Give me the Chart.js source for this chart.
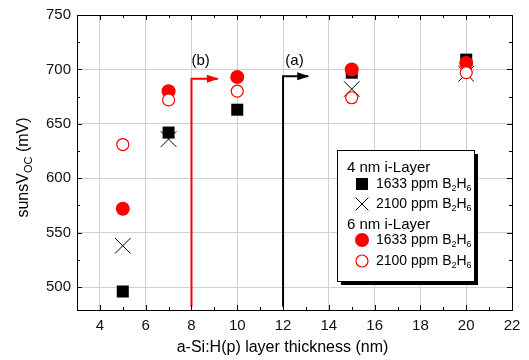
<!DOCTYPE html>
<html>
<head>
<meta charset="utf-8">
<script src="https://cdn.jsdelivr.net/npm/chart.js@4"></script>
<style>
  html, body { margin: 0; padding: 0; background: #fff; }
  #wrap { width: 529px; height: 360px; }
</style>
</head>
<body>
<div id="wrap"><canvas id="vocChart"></canvas></div>
<script>
// ── Data ──
const thickness = [5, 7, 10, 15, 20];
const nm4_1633 = [496, 642, 663, 697, 709];
const nm4_2100 = [538, 636, null, 682, 696];
const nm6_1633 = [572, 680, 693, 700, 706];
const nm6_2100 = [631, 672, 680, 674, 697];

const xTicks = [4, 6, 8, 10, 12, 14, 16, 18, 20, 22];
const yTicks = [500, 550, 600, 650, 700, 750];

// arrows (a) and (b): path points in data units
const arrowAX = [12, 12, 13.1];
const arrowAY = [482, 693.7, 693.7];
const arrowBX = [8, 8, 9.15];
const arrowBY = [482, 691.5, 691.5];
const arrowLabels = [
  { text: '(a)', x: 12.5, y: 708 },
  { text: '(b)', x: 8.4, y: 708 },
];

const FONT = '"Liberation Sans", Arial, sans-serif';

const pts = ys => thickness.map((x, i) => ({ x, y: ys[i] })).filter(p => p.y !== null);
const path = (xs, ys) => xs.map((x, i) => ({ x, y: ys[i] }));

// ── Frame, inward ticks, arrowheads, titles and legend ──
const decorPlugin = {
  id: 'decor',
  afterDatasetsDraw(chart) {
    const { ctx, chartArea: a, scales: { x, y } } = chart;
    ctx.save();

    // arrowheads at the end of each arrow path
    chart.data.datasets.forEach(ds => {
      if (!ds.isArrow) return;
      const n = ds.data.length;
      const tx = x.getPixelForValue(ds.data[n - 1].x), ty = y.getPixelForValue(ds.data[n - 1].y);
      ctx.fillStyle = ds.borderColor;
      ctx.beginPath();
      ctx.moveTo(tx + 1, ty);
      ctx.lineTo(tx - 11, ty - 4);
      ctx.lineTo(tx - 11, ty + 4);
      ctx.closePath();
      ctx.fill();
    });

    ctx.fillStyle = '#000';
    ctx.font = '15px ' + FONT;
    ctx.textAlign = 'center';
    ctx.textBaseline = 'middle';
    arrowLabels.forEach(l => ctx.fillText(l.text, x.getPixelForValue(l.x), y.getPixelForValue(l.y)));

    // frame
    ctx.strokeStyle = '#000';
    ctx.lineWidth = 1;
    ctx.strokeRect(Math.round(a.left) + 0.5, Math.round(a.top) + 0.5,
      Math.round(a.right - a.left), Math.round(a.bottom - a.top));

    // ticks pointing inward on all four sides
    ctx.beginPath();
    for (let v = 3; v <= 22; v++) {
      const px = Math.round(x.getPixelForValue(v)) + 0.5;
      const len = v % 2 === 0 ? 5 : 3;
      ctx.moveTo(px, a.bottom); ctx.lineTo(px, a.bottom - len);
      ctx.moveTo(px, a.top); ctx.lineTo(px, a.top + len);
    }
    for (let v = 500; v <= 750; v += 25) {
      const py = Math.round(y.getPixelForValue(v)) + 0.5;
      const len = v % 50 === 0 ? 5 : 3;
      ctx.moveTo(a.left, py); ctx.lineTo(a.left + len, py);
      ctx.moveTo(a.right, py); ctx.lineTo(a.right - len, py);
    }
    ctx.stroke();

    // x title
    ctx.font = '16px ' + FONT;
    ctx.fillText('a-Si:H(p) layer thickness (nm)', (a.left + a.right) / 2 - 12, 348);

    // y title with subscript
    ctx.save();
    ctx.translate(24, (a.top + a.bottom) / 2 + 5);
    ctx.rotate(-Math.PI / 2);
    ctx.textAlign = 'left';
    const p1 = 'sunsV', p2 = 'OC', p3 = ' (mV)';
    ctx.font = '16px ' + FONT;
    const w1 = ctx.measureText(p1).width, w3 = ctx.measureText(p3).width;
    ctx.font = '11px ' + FONT;
    const w2 = ctx.measureText(p2).width;
    let cx = -(w1 + w2 + w3) / 2;
    ctx.font = '16px ' + FONT;
    ctx.fillText(p1, cx, 0); cx += w1;
    ctx.font = '11px ' + FONT;
    ctx.fillText(p2, cx, 5); cx += w2;
    ctx.font = '16px ' + FONT;
    ctx.fillText(p3, cx, 0);
    ctx.restore();

    // legend box with shadow
    const lx = 337, ly = 150, lw = 137, lh = 131;
    ctx.fillStyle = '#000';
    ctx.fillRect(lx + 4, ly + 4, lw, lh);
    ctx.fillStyle = '#fff';
    ctx.fillRect(lx, ly, lw, lh);
    ctx.strokeStyle = '#000';
    ctx.strokeRect(lx + 0.5, ly + 0.5, lw, lh);

    const rows = [
      { head: '4 nm i-Layer', y: 168 },
      { ds: 0, y: 184 }, { ds: 1, y: 204 },
      { head: '6 nm i-Layer', y: 225 },
      { ds: 2, y: 240 }, { ds: 3, y: 261 },
    ];
    ctx.textAlign = 'left';
    rows.forEach(r => {
      ctx.fillStyle = '#000';
      if (r.head) {
        ctx.font = '15px ' + FONT;
        ctx.fillText(r.head, 347, r.y);
        return;
      }
      const ds = chart.data.datasets[r.ds];
      ctx.save();
      ctx.fillStyle = ds.backgroundColor;
      ctx.strokeStyle = ds.borderColor;
      ctx.lineWidth = ds.borderWidth;
      const rad = ds.pointStyle === 'crossRot' ? 9 : ds.pointRadius;
      Chart.helpers.drawPoint(ctx, { pointStyle: ds.pointStyle, radius: rad, borderWidth: ds.borderWidth }, 362, r.y);
      ctx.restore();
      ctx.fillStyle = '#000';
      ctx.font = '14px ' + FONT;
      let tx = 376;
      const t1 = ds.label.split(' B')[0] + ' B';
      ctx.fillText(t1, tx, r.y); tx += ctx.measureText(t1).width;
      ctx.font = '9px ' + FONT;
      ctx.fillText('2', tx, r.y + 5); tx += ctx.measureText('2').width;
      ctx.font = '14px ' + FONT;
      ctx.fillText('H', tx, r.y); tx += ctx.measureText('H').width;
      ctx.font = '9px ' + FONT;
      ctx.fillText('6', tx, r.y + 5);
    });
    ctx.restore();
  }
};

new Chart(document.getElementById('vocChart'), {
  type: 'scatter',
  data: {
    datasets: [
      { label: '1633 ppm B2H6', data: pts(nm4_1633), pointStyle: 'rect', pointRadius: 8.5,
        backgroundColor: '#000', borderColor: '#000', borderWidth: 0, order: 2 },
      { label: '2100 ppm B2H6', data: pts(nm4_2100), pointStyle: 'crossRot', pointRadius: 11,
        backgroundColor: '#000', borderColor: '#000', borderWidth: 1, order: 3 },
      { label: '1633 ppm B2H6', data: pts(nm6_1633), pointStyle: 'circle', pointRadius: 7,
        backgroundColor: '#ff0000', borderColor: '#ff0000', borderWidth: 0, order: 1 },
      { label: '2100 ppm B2H6', data: pts(nm6_2100), pointStyle: 'circle', pointRadius: 6,
        backgroundColor: '#ffffff', borderColor: '#ff0000', borderWidth: 1.2, order: 0 },
      { label: 'a', isArrow: true, data: path(arrowAX, arrowAY), showLine: true, pointRadius: 0,
        borderColor: '#000', borderWidth: 2, order: 4 },
      { label: 'b', isArrow: true, data: path(arrowBX, arrowBY), showLine: true, pointRadius: 0,
        borderColor: '#ff0000', borderWidth: 2, order: 4 },
    ],
  },
  options: {
    responsive: true,
    maintainAspectRatio: false,
    animation: false,
    events: [],
    layout: { padding: { top: 15, right: 17, left: 0, bottom: 0 } },
    plugins: { legend: { display: false }, tooltip: { enabled: false } },
    scales: {
      x: {
        type: 'linear', min: 3, max: 22,
        afterBuildTicks: s => { s.ticks = xTicks.map(v => ({ value: v })); },
        afterFit: s => { s.height = 50; },
        ticks: { color: '#111', font: { family: FONT, size: 15 }, padding: 7 },
        grid: { color: '#d0d0d0', drawTicks: false },
        border: { display: false },
      },
      y: {
        type: 'linear', min: 479, max: 750,
        afterBuildTicks: s => { s.ticks = yTicks.map(v => ({ value: v })); },
        afterFit: s => { s.width = 77; },
        ticks: { color: '#111', font: { family: FONT, size: 15 }, padding: 6 },
        grid: { color: '#d0d0d0', drawTicks: false },
        border: { display: false },
      },
    },
  },
  plugins: [decorPlugin],
});
</script>
</body>
</html>
